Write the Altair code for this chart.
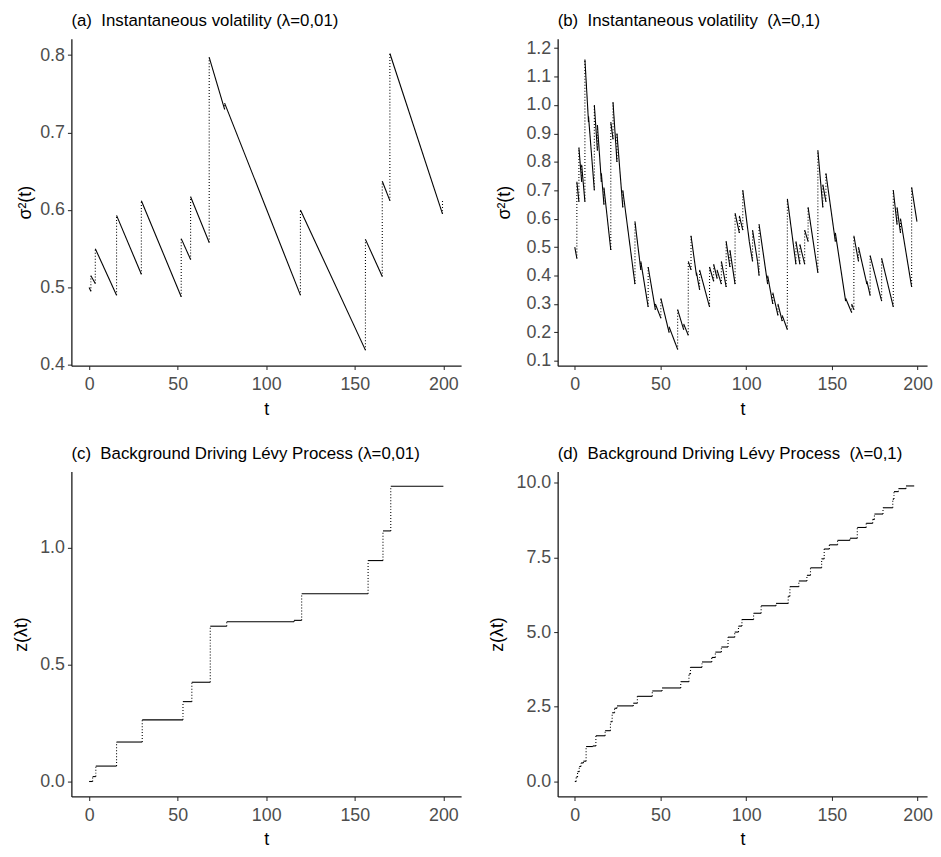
import altair as alt
import pandas as pd

# ---------------- data ----------------
# Each path: repeated t value = jump (drawn dotted), otherwise decay/flat (solid)
a_t = [0.0, 1.0, 1.0, 3.5, 3.5, 15.5, 15.5, 29.5, 29.5, 52.0, 52.0, 57.3, 57.3,
       67.8, 67.8, 76.5, 76.5, 119.3, 119.3, 156.0, 156.0, 165.5, 165.5,
       169.8, 169.8, 199.5, 199.5]
a_v = [0.500, 0.495, 0.515, 0.505, 0.550, 0.490, 0.593, 0.517, 0.612, 0.488, 0.563,
       0.536, 0.617, 0.558, 0.797, 0.730, 0.738, 0.490, 0.600, 0.419, 0.562,
       0.514, 0.637, 0.612, 0.802, 0.595, 0.612]

b_t = [0.0, 1.2, 1.2, 2.4, 2.4, 4.0, 4.0, 5.9, 5.9, 8.0, 8.0, 11.4, 11.4, 13.2, 13.2,
       15.5, 15.5, 17.0, 17.0, 21.0, 21.0, 22.3, 22.3, 24.6, 24.6, 28.0, 28.0,
       35.1, 35.1, 38.5, 38.5, 42.8, 42.8, 47.0, 47.0, 50.2, 50.2, 55.0, 55.0,
       60.0, 60.0, 63.5, 63.5, 66.2, 66.2, 67.8, 67.8, 71.0, 71.0, 72.8, 72.8,
       78.6, 78.6, 81.0, 81.0, 83.0, 83.0, 85.5, 85.5, 88.3, 88.3, 90.5, 90.5,
       93.5, 93.5, 96.0, 96.0, 98.0, 98.0, 101.8, 101.8, 103.7, 103.7, 106.6,
       106.6, 107.5, 107.5, 112.5, 112.5, 115.5, 115.5, 118.5, 118.5, 121.0,
       121.0, 124.0, 124.0, 129.0, 129.0, 131.3, 131.3, 134.1, 134.1, 136.1,
       136.1, 141.8, 141.8, 144.7, 144.7, 146.5, 146.5, 152.0, 152.0, 158.0,
       158.0, 161.5, 161.5, 162.8, 162.8, 165.5, 165.5, 170.4, 170.4, 172.3,
       172.3, 179.0, 179.0, 185.8, 185.8, 188.0, 188.0, 190.0, 190.0, 196.5,
       196.5, 199.6]
b_v = [0.50, 0.46, 0.73, 0.66, 0.85, 0.73, 0.79, 0.66, 1.16, 0.94, 0.96, 0.70, 1.00,
       0.84, 0.93, 0.73, 0.76, 0.65, 0.71, 0.49, 0.94, 0.88, 1.01, 0.80, 0.90,
       0.64, 0.70, 0.37, 0.59, 0.42, 0.45, 0.29, 0.43, 0.28, 0.30, 0.25, 0.32,
       0.20, 0.22, 0.14, 0.28, 0.21, 0.23, 0.19, 0.45, 0.42, 0.54, 0.40, 0.41,
       0.35, 0.42, 0.29, 0.43, 0.38, 0.44, 0.39, 0.42, 0.37, 0.45, 0.36, 0.52,
       0.43, 0.49, 0.37, 0.62, 0.55, 0.61, 0.56, 0.70, 0.52, 0.52, 0.45, 0.56,
       0.45, 0.45, 0.40, 0.58, 0.37, 0.40, 0.30, 0.34, 0.26, 0.30, 0.24, 0.26,
       0.21, 0.67, 0.44, 0.52, 0.44, 0.51, 0.44, 0.56, 0.52, 0.64, 0.41, 0.84,
       0.64, 0.72, 0.66, 0.76, 0.52, 0.55, 0.31, 0.32, 0.27, 0.30, 0.28, 0.54,
       0.45, 0.50, 0.37, 0.38, 0.33, 0.47, 0.31, 0.46, 0.29, 0.70, 0.58, 0.64,
       0.55, 0.60, 0.36, 0.71, 0.59]

c_t = [0.0, 2.0, 2.0, 3.8, 3.8, 15.5, 15.5, 30.0, 30.0, 53.0, 53.0, 58.0, 58.0,
       68.4, 68.4, 77.7, 77.7, 115.7, 115.7, 120.0, 120.0, 157.5, 157.5, 165.9,
       165.9, 170.3, 170.3, 200.0]
c_v = [0.0, 0.0, 0.021, 0.021, 0.066, 0.066, 0.169, 0.169, 0.264, 0.264, 0.342,
       0.342, 0.425, 0.425, 0.665, 0.665, 0.684, 0.684, 0.690, 0.690, 0.804,
       0.804, 0.946, 0.946, 1.073, 1.073, 1.264, 1.264]

d_t = [0.0, 0.8, 0.8, 1.6, 1.6, 2.6, 2.6, 3.6, 3.6, 5.0, 5.0, 6.6, 6.6, 10.5, 10.5,
       12.3, 12.3, 17.7, 17.7, 20.8, 20.8, 21.8, 21.8, 23.2, 23.2, 24.6, 24.6,
       34.1, 34.1, 36.5, 36.5, 45.2, 45.2, 50.9, 50.9, 61.8, 61.8, 66.6, 66.6,
       67.5, 67.5, 74.2, 74.2, 79.9, 79.9, 82.0, 82.0, 85.5, 85.5, 89.4, 89.4,
       93.3, 93.3, 95.5, 95.5, 97.5, 97.5, 104.3, 104.3, 108.7, 108.7, 117.4,
       117.4, 124.5, 124.5, 125.5, 125.5, 130.7, 130.7, 135.4, 135.4, 137.5,
       137.5, 144.0, 144.0, 145.5, 145.5, 148.5, 148.5, 153.3, 153.3, 160.5,
       160.5, 164.8, 164.8, 170.0, 170.0, 173.8, 173.8, 174.8, 174.8, 179.8,
       179.8, 185.5, 185.5, 186.2, 186.2, 188.8, 188.8, 193.2, 193.2, 198.0]
d_v = [0.0, 0.0, 0.15, 0.15, 0.33, 0.33, 0.50, 0.50, 0.62, 0.62, 0.68, 0.68, 1.17,
       1.17, 1.19, 1.19, 1.53, 1.53, 1.70, 1.70, 2.00, 2.00, 2.30, 2.30, 2.45,
       2.45, 2.53, 2.53, 2.62, 2.62, 2.85, 2.85, 3.03, 3.03, 3.13, 3.13, 3.34,
       3.34, 3.60, 3.60, 3.82, 3.82, 4.00, 4.00, 4.15, 4.15, 4.33, 4.33, 4.50,
       4.50, 4.83, 4.83, 5.00, 5.00, 5.20, 5.20, 5.42, 5.42, 5.63, 5.63, 5.88,
       5.88, 5.96, 5.96, 6.20, 6.20, 6.52, 6.52, 6.71, 6.71, 6.90, 6.90, 7.15,
       7.15, 7.45, 7.45, 7.78, 7.78, 7.92, 7.92, 8.07, 8.07, 8.14, 8.14, 8.50,
       8.50, 8.64, 8.64, 8.77, 8.77, 8.95, 8.95, 9.16, 9.16, 9.45, 9.45, 9.70,
       9.70, 9.80, 9.80, 9.89, 9.89]

x_ticks = [0, 50, 100, 150, 200]
a_yticks = [0.4, 0.5, 0.6, 0.7, 0.8]
b_yticks = [0.1, 0.2, 0.3, 0.4, 0.5, 0.6, 0.7, 0.8, 0.9, 1.0, 1.1, 1.2]
c_yticks = [0.0, 0.5, 1.0]
d_yticks = [0.0, 2.5, 5.0, 7.5, 10.0]

NB = "\u00a0"
titles = ["(a)" + NB + " Instantaneous volatility (\u03bb=0,01)",
          "(b)" + NB + " Instantaneous volatility" + NB + " (\u03bb=0,1)",
          "(c)" + NB + " Background Driving L\u00e9vy Process (\u03bb=0,01)",
          "(d)" + NB + " Background Driving L\u00e9vy Process" + NB + " (\u03bb=0,1)"]

FONT = "Liberation Sans"


def segments(ts, vs):
    dec, jmp = [], []
    for i in range(len(ts) - 1):
        r = {"x": ts[i], "x2": ts[i + 1], "y": vs[i], "y2": vs[i + 1]}
        (jmp if ts[i] == ts[i + 1] else dec).append(r)
    return pd.DataFrame(dec), pd.DataFrame(jmp)


def panel(ts, vs, title, ytitle, xdom, ydom, yticks, width, height, ytpad):
    dec, jmp = segments(ts, vs)
    xs = alt.Scale(domain=xdom, nice=False, zero=False)
    ys = alt.Scale(domain=ydom, nice=False, zero=False)
    xax = alt.Axis(values=x_ticks, title="t", format="d",
                   labelPadding=6, titlePadding=7)
    yax = alt.Axis(values=yticks, title=ytitle, format=".1f",
                   labelPadding=3, titlePadding=ytpad)
    solid = alt.Chart(dec).mark_rule(color="black", strokeWidth=1.1).encode(
        x=alt.X("x:Q", scale=xs, axis=xax), x2="x2",
        y=alt.Y("y:Q", scale=ys, axis=yax), y2="y2")
    dotted = alt.Chart(jmp).mark_rule(color="black", strokeWidth=1.1,
                                      strokeDash=[1, 2]).encode(
        x=alt.X("x:Q", scale=xs, axis=xax), x2="x2",
        y=alt.Y("y:Q", scale=ys, axis=yax), y2="y2")
    return alt.layer(solid, dotted).properties(
        width=width, height=height,
        title=alt.TitleParams(text=title, anchor="start", frame="group"))


pa = panel(a_t, a_v, titles[0], "\u03c3\u00b2(t)", [-10, 210], [0.399, 0.821],
           a_yticks, 393.5, 330, 5)
pb = panel(b_t, b_v, titles[1], "\u03c3\u00b2(t)", [-10, 205.5], [0.083, 1.233],
           b_yticks, 373, 330, 13)
pc = panel(c_t, c_v, titles[2], "z(\u03bbt)", [-10, 210], [-0.064, 1.327],
           c_yticks, 393.5, 328, 9)
pd_ = panel(d_t, d_v, titles[3], "z(\u03bbt)", [-10, 205.5], [-0.50, 10.37],
            d_yticks, 373, 328, 10)

chart = alt.concat(
    pa, pb, pc, pd_, columns=2, bounds="flush",
    spacing={"row": 107, "column": 97}
).properties(
    padding={"left": 4, "top": 0, "right": 0, "bottom": 0}
).configure_view(stroke=None).configure_axis(
    grid=False, domainColor="#1a1a1a", domainWidth=1.3, tickColor="#333333",
    tickSize=4, tickWidth=1.1, labelColor="#4D4D4D", labelFont=FONT,
    labelFontSize=18, titleFont=FONT, titleFontSize=18,
    titleFontWeight="normal", titleColor="black", labelFlush=False
).configure_title(
    font=FONT, fontSize=17, fontWeight="normal", color="black", offset=9
)

chart.save("out.html", embed_options={"renderer": "svg", "actions": False})
